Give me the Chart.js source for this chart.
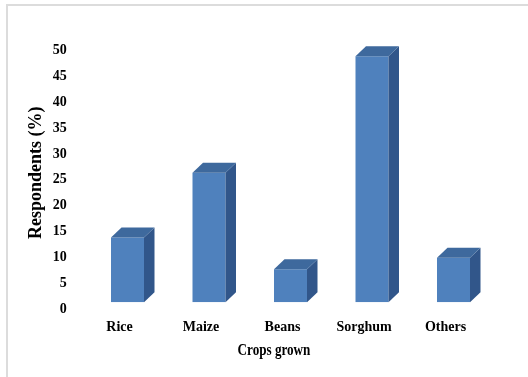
<!DOCTYPE html>
<html>
<head>
<meta charset="utf-8">
<script src="https://cdn.jsdelivr.net/npm/chart.js@4/dist/chart.umd.min.js"></script>
<style>
  html, body { margin: 0; padding: 0; background: #ffffff; }
  #wrap { position: relative; width: 528px; height: 377px; overflow: hidden; }
  #frame { position: absolute; left: 6px; top: 4px; right: -4px; bottom: -4px;
           border-top: 2px solid #dcdcdc; border-left: 2px solid #dcdcdc; pointer-events: none; }
  canvas { position: absolute; left: 0; top: 0; }
</style>
</head>
<body>
<div id="wrap">
  <canvas id="chart" width="528" height="377"></canvas>
  <div id="frame"></div>
</div>
<script>
// Share of respondents growing each crop
const categories = ['Rice', 'Maize', 'Beans', 'Sorghum', 'Others'];
const respondentsPct = [12.5, 25.0, 6.4, 47.5, 8.6];
const yTickMin = 0;
const yTickMax = 50;
const yTickStep = 5;

const FONT = "'Liberation Serif', 'Times New Roman', serif";
const FRONT = '#4F81BD';
const TOP = '#3E699D';
const SIDE = '#31568A';
const DEPTH_X = 10.5;
const DEPTH_Y = 10;

// Adds the top and right-hand faces to each column for a 3-D look
const columnDepth = {
  id: 'columnDepth',
  afterDatasetsDraw(chart) {
    const ctx = chart.ctx;
    const meta = chart.getDatasetMeta(0);
    ctx.save();
    meta.data.forEach(bar => {
      const p = bar.getProps(['x', 'y', 'base', 'width'], true);
      const l = p.x - p.width / 2;
      const r = p.x + p.width / 2;
      const t = p.y;
      const b = p.base;
      // side face
      ctx.fillStyle = SIDE;
      ctx.beginPath();
      ctx.moveTo(r, t);
      ctx.lineTo(r + DEPTH_X, t - DEPTH_Y);
      ctx.lineTo(r + DEPTH_X, b - DEPTH_Y);
      ctx.lineTo(r, b);
      ctx.closePath();
      ctx.fill();
      // top face
      ctx.fillStyle = TOP;
      ctx.beginPath();
      ctx.moveTo(l, t);
      ctx.lineTo(l + DEPTH_X, t - DEPTH_Y);
      ctx.lineTo(r + DEPTH_X, t - DEPTH_Y);
      ctx.lineTo(r, t);
      ctx.closePath();
      ctx.fill();
    });
    ctx.restore();
  }
};

// Horizontal axis caption, set slightly condensed
const xCaption = {
  id: 'xCaption',
  afterDraw(chart) {
    const ctx = chart.ctx;
    ctx.save();
    ctx.translate(274, 351);
    ctx.scale(0.82, 1);
    ctx.font = 'bold 16px ' + FONT;
    ctx.fillStyle = '#000000';
    ctx.textAlign = 'center';
    ctx.textBaseline = 'middle';
    ctx.fillText('Crops grown', 0, 0);
    ctx.restore();
  }
};

new Chart(document.getElementById('chart'), {
  type: 'bar',
  data: {
    labels: categories,
    datasets: [{
      data: respondentsPct,
      backgroundColor: FRONT,
      borderWidth: 0,
      categoryPercentage: 0.405,
      barPercentage: 1.0
    }]
  },
  options: {
    responsive: false,
    animation: false,
    layout: { padding: { left: 0, top: 43.3, right: 33.75, bottom: 0 } },
    plugins: { legend: { display: false }, tooltip: { enabled: false } },
    scales: {
      x: {
        grid: { display: false, drawTicks: false },
        border: { display: false },
        ticks: {
          color: '#000000',
          font: { family: FONT, size: 14, weight: 'bold' },
          padding: 17,
          labelOffset: -8,
          maxRotation: 0
        },
        afterFit(scale) { scale.height = 74.7; }
      },
      y: {
        min: yTickMin,
        max: yTickMax,
        grid: { display: false, drawTicks: false },
        border: { display: false },
        ticks: {
          stepSize: yTickStep,
          color: '#000000',
          font: { family: FONT, size: 14, weight: 'bold' },
          padding: 20,
          labelOffset: 7
        },
        title: {
          display: true,
          text: 'Respondents (%)',
          color: '#000000',
          font: { family: FONT, size: 18, weight: 'bold' },
          padding: { top: 26, bottom: 0 }
        },
        afterFit(scale) { scale.width = 86.75; }
      }
    }
  },
  plugins: [columnDepth, xCaption]
});
</script>
</body>
</html>
